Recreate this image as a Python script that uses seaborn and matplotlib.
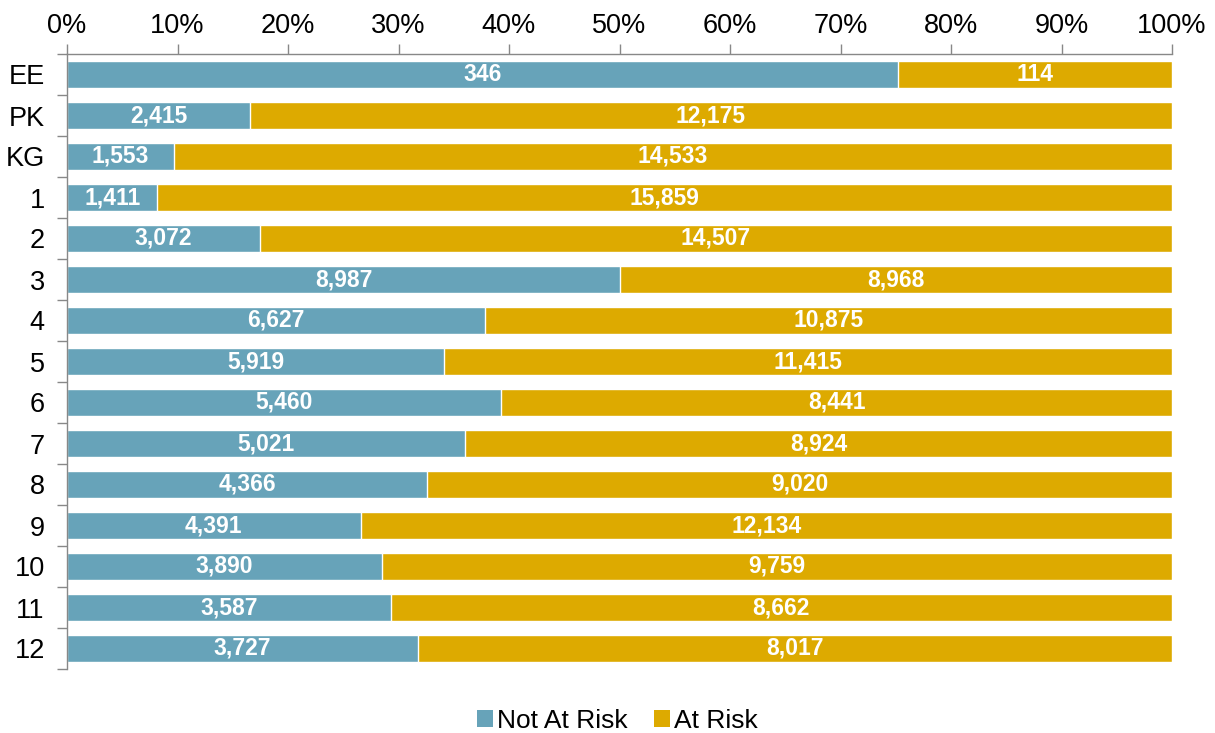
import matplotlib
matplotlib.use("Agg")
import matplotlib.pyplot as plt
import seaborn as sns
import pandas as pd
import numpy as np
from matplotlib.patches import Patch

grades = ["EE", "PK", "KG", "1", "2", "3", "4", "5", "6", "7", "8", "9", "10", "11", "12"]
not_at_risk = [346, 2415, 1553, 1411, 3072, 8987, 6627, 5919, 5460, 5021, 4366, 4391, 3890, 3587, 3727]
at_risk = [114, 12175, 14533, 15859, 14507, 8968, 10875, 11415, 8441, 8924, 9020, 12134, 9759, 8662, 8017]
series_names = ["Not At Risk", "At Risk"]
colors = ["#67A3B9", "#DDAA00"]

sns.set_theme(style="white")
plt.rcParams['font.family'] = ['Liberation Sans', 'DejaVu Sans']
plt.rcParams['text.color'] = 'black'

df = pd.DataFrame({"grade": grades, "nar": not_at_risk, "ar": at_risk})
df["total"] = df["nar"] + df["ar"]
df["nar_pct"] = df["nar"] / df["total"] * 100
df["full"] = 100.0

fig = plt.figure(figsize=(12.15, 7.33), dpi=100)
ax = fig.add_axes([67/1215, 1-669/733, (1172-67)/1215, (669-54)/733])

sns.barplot(data=df, y="grade", x="full", order=grades, color=colors[1], width=0.68,
            ax=ax, orient="h", saturation=1)
sns.barplot(data=df, y="grade", x="nar_pct", order=grades, color=colors[0], width=0.68,
            ax=ax, orient="h", saturation=1)

for i, row in df.iterrows():
    ax.text(row["nar_pct"] / 2, i, f"{row['nar']:,}", ha="center", va="center",
            color="white", fontsize=16.5, fontweight="bold")
    ax.text(row["nar_pct"] + (100 - row["nar_pct"]) / 2, i, f"{row['ar']:,}", ha="center",
            va="center", color="white", fontsize=16.5, fontweight="bold")

ax.set_xlim(0, 100)
ax.set_ylim(len(grades) - 0.5, -0.5)
ax.xaxis.tick_top()
ax.set_xticks(np.arange(0, 101, 10))
ax.set_xticklabels([f"{v}%" for v in range(0, 101, 10)], fontsize=19.5)
ax.set_xlabel("")
ax.set_ylabel("")
ax.set_yticks(range(len(grades)))
ax.set_yticklabels(grades, fontsize=19.5)
ax.set_yticks(np.arange(-0.5, len(grades), 1), minor=True)
ax.tick_params(axis="y", which="major", length=0, pad=16, colors="black")
ax.tick_params(axis="y", which="minor", length=7, width=1, color="#888888", left=True)
ax.tick_params(axis="x", which="major", length=7, width=1, color="#888888", top=True,
               bottom=False, labeltop=True, labelbottom=False, pad=4, labelcolor="black")

for s in ["right", "bottom"]:
    ax.spines[s].set_visible(False)
for s in ["top", "left"]:
    ax.spines[s].set_visible(True)
    ax.spines[s].set_color("#888888")
    ax.spines[s].set_linewidth(1)

handles = [Patch(facecolor=c, edgecolor="none") for c in colors]
fig.legend(handles, series_names, loc="center", bbox_to_anchor=(0.5 + 10/1215, 1-721/733), ncol=2,
           frameon=False, fontsize=19, handlelength=0.6, handleheight=0.6,
           handletextpad=0.15, columnspacing=1.0, labelcolor="black")

fig.savefig("out.png", dpi=100)
